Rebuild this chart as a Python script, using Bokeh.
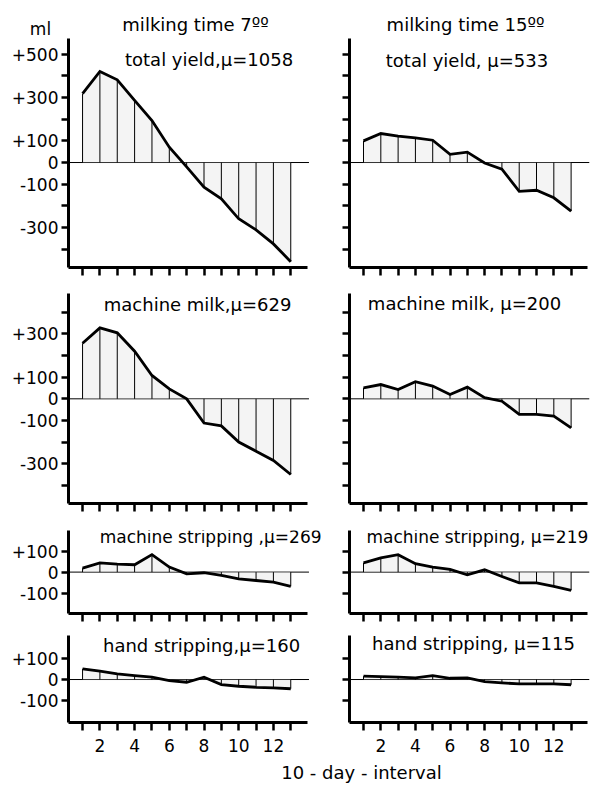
from bokeh.plotting import figure
from bokeh.layouts import column, row
from bokeh.models import Range1d, FixedTicker, Label, ColumnDataSource
from bokeh.core.properties import value
from bokeh.embed import file_html
from bokeh.resources import INLINE

FONT = "DejaVu Sans"

# ---------------- data (ml deviation from mean, per 10-day interval) ----------------
intervals = list(range(1, 14))
x_tick_labels = {2: "2", 4: "4", 6: "6", 8: "8", 10: "10", 12: "12"}

total_7 = [318, 421, 382, 287, 194, 71, -20, -114, -168, -260, -311, -376, -458]
total_15 = [100, 134, 122, 114, 103, 38, 48, -2, -31, -133, -128, -163, -225]
machine_7 = [257, 328, 305, 220, 108, 46, 0, -112, -125, -200, -242, -285, -350]
machine_15 = [51, 66, 43, 79, 59, 20, 54, 5, -11, -72, -72, -80, -134]
mstrip_7 = [19, 44, 38, 35, 83, 24, -8, -3, -16, -32, -40, -48, -68]
mstrip_15 = [44, 68, 83, 40, 24, 13, -13, 11, -21, -51, -51, -68, -87]
hstrip_7 = [51, 40, 27, 19, 11, -5, -13, 11, -24, -32, -37, -40, -44]
hstrip_15 = [16, 14, 11, 8, 19, 6, 8, -10, -16, -21, -21, -21, -25]

column_titles = ["milking time 7\u00ba\u00ba", "milking time 15\u00ba\u00ba"]
unit_label = "ml"
subtitles_7 = ["total yield,\u03bc=1058", "machine milk,\u03bc=629",
               "machine stripping ,\u03bc=269", "hand stripping,\u03bc=160"]
subtitles_15 = ["total yield, \u03bc=533", "machine milk, \u03bc=200",
                "machine stripping, \u03bc=219", "hand stripping, \u03bc=115"]
series_7 = [total_7, machine_7, mstrip_7, hstrip_7]
series_15 = [total_15, machine_15, mstrip_15, hstrip_15]

y_tick_values = [
    [-400, -300, -200, -100, 0, 100, 200, 300, 400, 500],
    [-400, -300, -200, -100, 0, 100, 200, 300, 400],
    [-100, 0, 100],
    [-100, 0, 100],
]
y_tick_labels = [
    {500: "+500", 300: "+300", 100: "+100", 0: "0", -100: "-100", -300: "-300"},
    {300: "+300", 100: "+100", 0: "0", -100: "-100", -300: "-300"},
    {100: "+100", 0: "0", -100: "-100"},
    {100: "+100", 0: "0", -100: "-100"},
]
x_axis_title = "10 - day - interval"

# ---------------- layout ----------------
HEADER_H = 38
y_ranges = [(-485, 573), (-484, 487), (-197, 198), (-205, 210)]
frame_heights = [229, 210, 83, 87]
border_top = [0, 13, 13, 13]
border_bottom = [13, 14, 9, 38]
sub_pos_7 = [(8.29, 474), (7.63, 438), (8.38, 168), (7.86, 164)]
sub_pos_15 = [(6.98, 470), (6.84, 442), (7.58, 168), (7.36, 172)]
sub_size = ["18px", "18px", "17px", "18px"]
X_START = 0.19
AXIS_END = 13.95
PX_PER_UNIT = [17.35, 17.30]
FRAME_W = [262, 243]
BORDER_L = [68, 19]


def make_panel(r, side, vals):
    left = side == 0
    fw = FRAME_W[side]
    x_end = X_START + fw / PX_PER_UNIT[side]
    p = figure(
        frame_width=fw,
        frame_height=frame_heights[r],
        min_border_left=BORDER_L[side],
        min_border_right=0,
        min_border_top=border_top[r],
        min_border_bottom=border_bottom[r],
        x_range=Range1d(X_START, x_end),
        y_range=Range1d(*y_ranges[r]),
        toolbar_location=None,
        output_backend="svg",
        title=None,
    )
    p.outline_line_color = None
    p.grid.visible = False
    p.background_fill_color = "white"
    p.border_fill_color = "white"

    # axes
    yax = p.yaxis[0]
    yax.ticker = FixedTicker(ticks=y_tick_values[r], minor_ticks=[])
    yax.axis_line_width = 3
    yax.major_tick_line_width = 2.5
    yax.major_tick_in = 0
    yax.major_tick_out = 7
    yax.minor_tick_line_color = None
    if left:
        yax.major_label_overrides = {t: y_tick_labels[r].get(t, "") for t in y_tick_values[r]}
        yax.major_label_text_font = FONT
        yax.major_label_text_font_size = "17px"
        yax.major_label_text_color = "black"
        yax.major_label_standoff = 3
    else:
        yax.major_label_overrides = {t: "" for t in y_tick_values[r]}
        yax.major_label_text_font_size = "0px"
        yax.major_label_standoff = 0

    xax = p.xaxis[0]
    xax.bounds = (X_START, AXIS_END)
    xax.ticker = FixedTicker(ticks=intervals, minor_ticks=[])
    xax.axis_line_width = 3
    xax.major_tick_line_width = 2.5
    xax.major_tick_in = 0
    xax.major_tick_out = 8
    xax.minor_tick_line_color = None
    if r == 3:
        xax.major_label_overrides = {t: x_tick_labels.get(t, "") for t in intervals}
        xax.major_label_text_font = FONT
        xax.major_label_text_font_size = "17px"
        xax.major_label_text_color = "black"
        xax.major_label_standoff = 8
    else:
        xax.major_label_overrides = {t: "" for t in intervals}
        xax.major_label_text_font_size = "0px"
        xax.major_label_standoff = 0

    # zero reference line, as long as the x axis
    p.line(x=[X_START, AXIS_END + 0.1], y=[0, 0], line_color="black", line_width=1)

    src = ColumnDataSource(dict(x=intervals, y=vals, zero=[0] * len(vals)))
    p.varea(x="x", y1="zero", y2="y", source=src, fill_color="#e6e6e6", fill_alpha=0.45)
    p.segment(x0="x", y0="zero", x1="x", y1="y", source=src, line_color="black", line_width=1)
    p.line(x="x", y="y", source=src, line_color="black", line_width=2.8, line_join="miter")

    sx, sy = (sub_pos_7 if left else sub_pos_15)[r]
    p.add_layout(Label(x=sx, y=sy, text=(subtitles_7 if left else subtitles_15)[r],
                       text_align="center", text_baseline="alphabetic",
                       text_font=FONT, text_font_size=sub_size[r], text_color="black"))
    return p


# header strip with the column titles and the unit (screen-pixel coordinates)
header = figure(width=592, height=HEADER_H, x_range=Range1d(0, 592), y_range=Range1d(HEADER_H, 0),
                x_axis_type=None, y_axis_type=None, toolbar_location=None,
                output_backend="svg", min_border=0, title=None)
header.outline_line_color = None
header.grid.visible = False
header.text(x=[195, 465], y=[24, 24], text=column_titles, text_align="center",
            text_baseline="alphabetic", text_font=value(FONT), text_font_size="18px",
            text_color="black")
header.text(x=[40], y=[28], text=[unit_label], text_align="center", text_baseline="alphabetic",
            text_font=value(FONT), text_font_size="17px", text_color="black")

rows = []
for r in range(4):
    rows.append(row(make_panel(r, 0, series_7[r]), make_panel(r, 1, series_15[r])))

footer = figure(width=592, height=25, x_range=Range1d(0, 592), y_range=Range1d(0, 25),
                x_axis_type=None, y_axis_type=None, toolbar_location=None,
                output_backend="svg", min_border=0, title=None)
footer.outline_line_color = None
footer.grid.visible = False
footer.text(x=[361], y=[13], text=[x_axis_title], text_align="center", text_baseline="middle",
            text_font=value(FONT), text_font_size="18px", text_color="black")

layout = column(header, *rows, footer)

open("out.html", "w").write(file_html(layout, INLINE))
